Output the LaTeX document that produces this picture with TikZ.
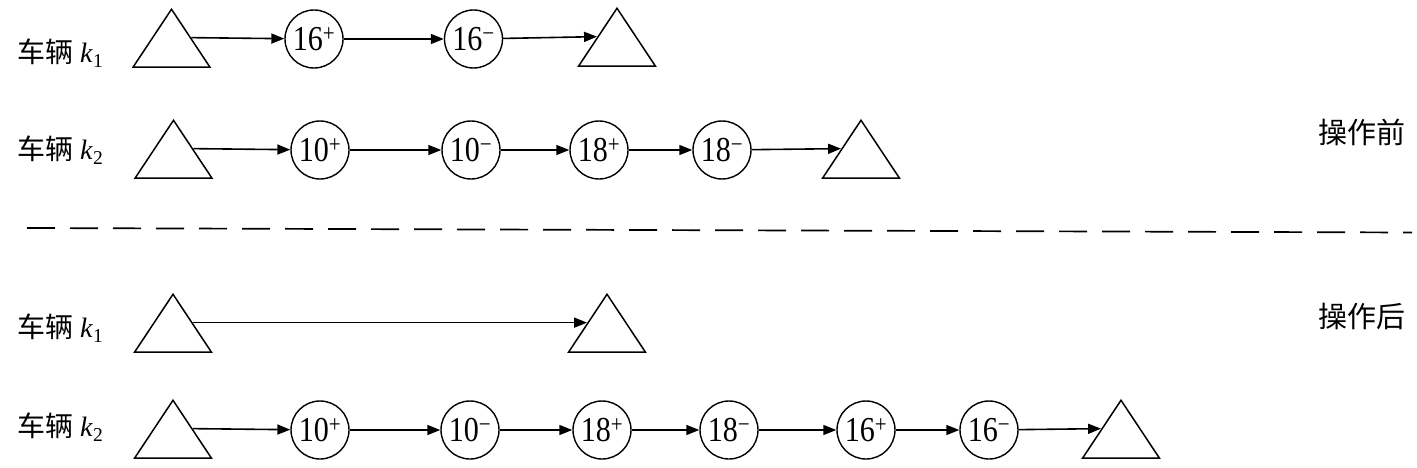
\documentclass[tikz,border=0pt]{standalone}
\usepackage{fontspec}
\setmainfont{Liberation Serif}
\newfontfamily\cjk{Noto Sans CJK SC}
\newfontfamily\numfont[FakeStretch=0.86]{Liberation Serif}
\usetikzlibrary{shapes.geometric,arrows.meta}
\tikzset{
  tri/.style={isosceles triangle, isosceles triangle stretches, shape border rotate=90,
    minimum width=77pt, minimum height=58pt, inner sep=0pt, draw, line width=1.5pt, anchor=south},
  cnode/.style={circle, draw, line width=1.4pt, minimum size=58pt, inner sep=0pt,
    font=\fontsize{35}{35}\selectfont\numfont},
  arr/.style={-{Triangle[length=13pt,width=10pt]}, line width=1.6pt},
  lab/.style={anchor=west, inner sep=0pt, font=\fontsize{28}{30}\selectfont},
  side/.style={inner sep=0pt, font=\fontsize{29}{30}\selectfont\cjk},
  sep/.style={line width=1.7pt, dash pattern=on 28pt off 15pt}
}
\newcommand{\veh}[1]{{\cjk 车辆}\ \textit{k}\textsubscript{#1}}
\newcommand{\pl}[1]{#1\textsuperscript{+}}
\newcommand{\mi}[1]{#1\textsuperscript{−}}
\begin{document}
\begin{tikzpicture}[x=1pt,y=-1pt]
\useasboundingbox (0,0) rectangle (1417,468);
% row 1
\node[lab] (l1) at (17,53) {\veh{1}};
\node[tri] (a0) at (171.5,68) {};
\node[cnode] (a1) at (314,39) {\pl{16}};
\node[cnode] (a2) at (473.5,39) {\mi{16}};
\node[tri] (a3) at (617,67) {};
\draw[arr] (a0.right side) -- (a1);
\draw[arr] (a1) -- (a2);
\draw[arr] (a2) -- (a3.left side);
% row 2
\node[lab] (l2) at (17,150) {\veh{2}};
\node[tri] (b0) at (173.5,179) {};
\node[cnode] (b1) at (320,150) {\pl{10}};
\node[cnode] (b2) at (471,150) {\mi{10}};
\node[cnode] (b3) at (599,150) {\pl{18}};
\node[cnode] (b4) at (722,150) {\mi{18}};
\node[tri] (b5) at (861,179) {};
\draw[arr] (b0.right side) -- (b1);
\draw[arr] (b1) -- (b2);
\draw[arr] (b2) -- (b3);
\draw[arr] (b3) -- (b4);
\draw[arr] (b4) -- (b5.left side);
\node[side] (before) at (1362,132) {操作前};
% separator
\coordinate (sl) at (27,228);
\coordinate (sr) at (1412,232.5);
\draw[sep] (sl) -- (sr);
% row 3
\node[side] (after) at (1362,317) {操作后};
\node[lab] (l3) at (17,328) {\veh{1}};
\node[tri] (c0) at (173,353) {};
\node[tri] (c1) at (607,353) {};
\draw[arr] (c0.right side) -- (c1.left side);
% row 4
\node[lab] (l4) at (17,427) {\veh{2}};
\node[tri] (d0) at (173,459) {};
\node[cnode] (d1) at (320,430) {\pl{10}};
\node[cnode] (d2) at (470,430) {\mi{10}};
\node[cnode] (d3) at (602,430) {\pl{18}};
\node[cnode] (d4) at (729,430) {\mi{18}};
\node[cnode] (d5) at (866,430) {\pl{16}};
\node[cnode] (d6) at (989,430) {\mi{16}};
\node[tri] (d7) at (1121,459) {};
\draw[arr] (d0.right side) -- (d1);
\draw[arr] (d1) -- (d2);
\draw[arr] (d2) -- (d3);
\draw[arr] (d3) -- (d4);
\draw[arr] (d4) -- (d5);
\draw[arr] (d5) -- (d6);
\draw[arr] (d6) -- (d7.left side);
\end{tikzpicture}
\end{document}
